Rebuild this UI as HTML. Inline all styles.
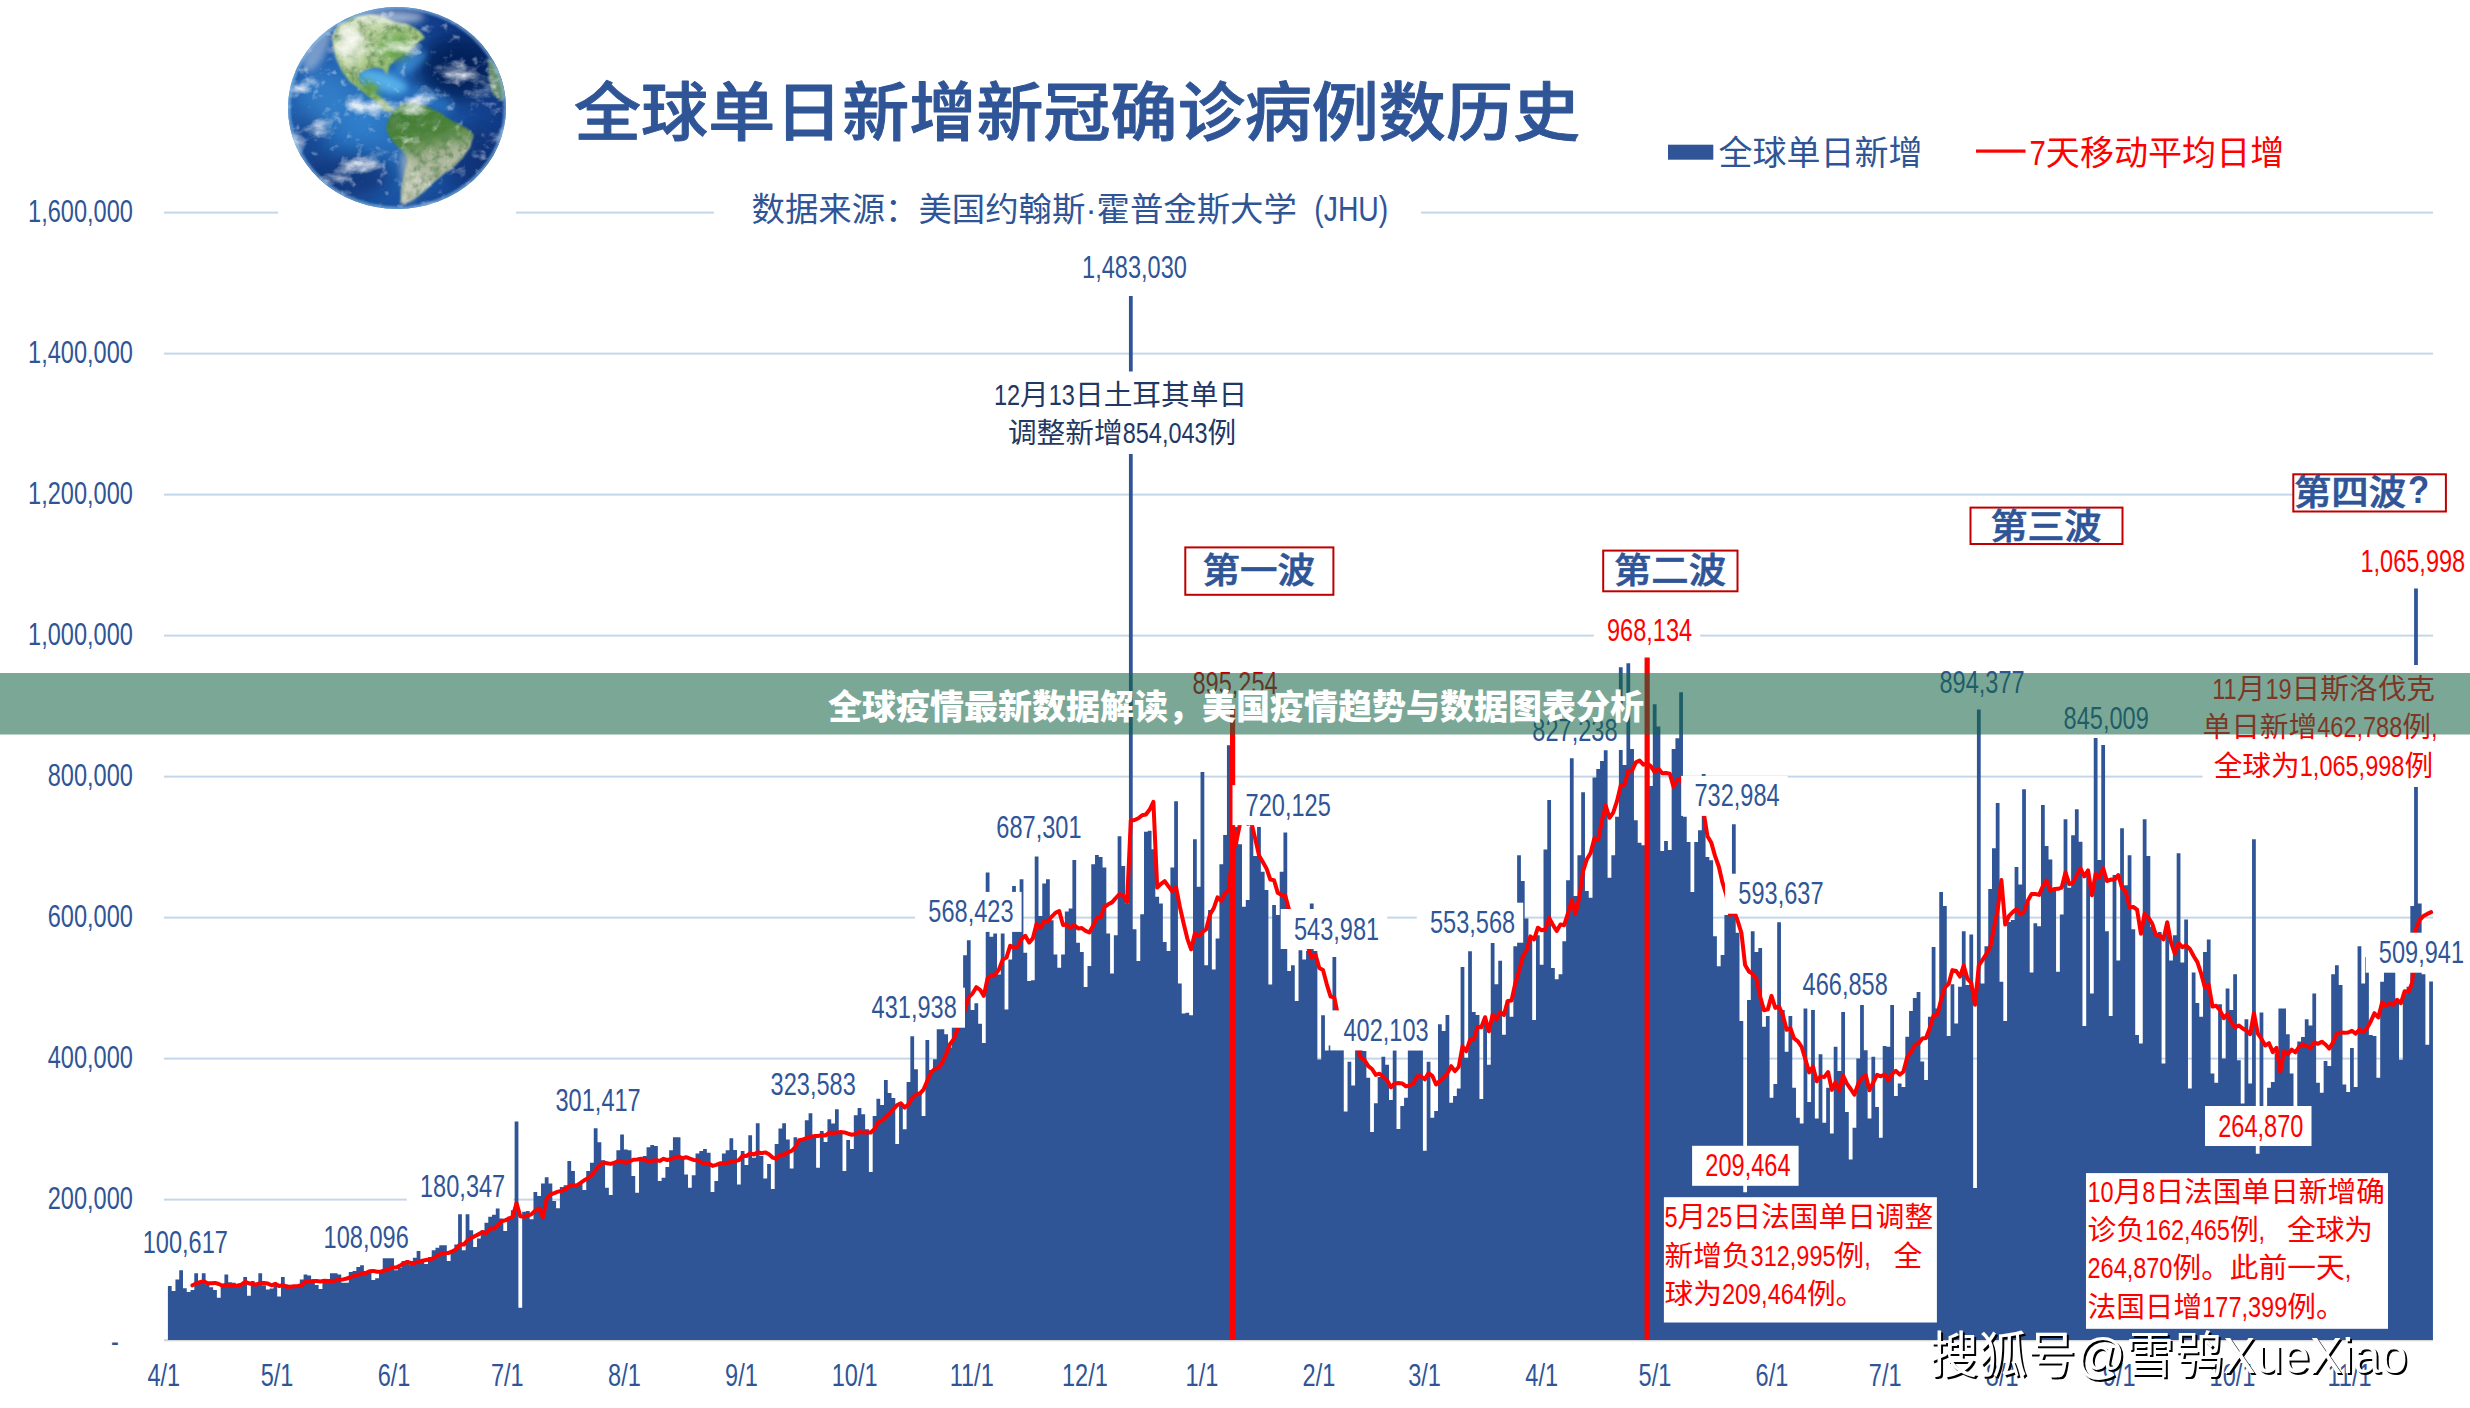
<!DOCTYPE html><html lang="zh"><head><meta charset="utf-8"><title>全球单日新增新冠确诊病例数历史</title>
<style>html,body{margin:0;padding:0;background:#fff}body{width:2470px;height:1408px;overflow:hidden}svg{display:block}text{font-family:"Liberation Sans","Noto Sans CJK SC",sans-serif}</style></head><body>
<svg width="2470" height="1408" viewBox="0 0 2470 1408">
<defs><clipPath id="gc"><ellipse cx="397" cy="108" rx="109" ry="101"/></clipPath><radialGradient id="og" cx="0.34" cy="0.56" r="0.74"><stop offset="0" stop-color="#3180cc"/><stop offset="0.45" stop-color="#1f5dad"/><stop offset="0.8" stop-color="#103884"/><stop offset="1" stop-color="#0a2762"/></radialGradient><linearGradient id="sa" x1="0" y1="0" x2="0.25" y2="1"><stop offset="0" stop-color="#3e7d32"/><stop offset="0.42" stop-color="#4d8339"/><stop offset="0.62" stop-color="#a9b497"/><stop offset="1" stop-color="#c2c7b6"/></linearGradient><linearGradient id="na" x1="0" y1="0" x2="0.6" y2="1"><stop offset="0" stop-color="#d9e3c4"/><stop offset="0.5" stop-color="#a9c886"/><stop offset="1" stop-color="#6fa04a"/></linearGradient><filter id="b1" x="-20%" y="-20%" width="140%" height="140%"><feGaussianBlur stdDeviation="1.2"/></filter><filter id="b6" x="-50%" y="-50%" width="200%" height="200%"><feGaussianBlur stdDeviation="9"/></filter><filter id="b3" x="-50%" y="-50%" width="200%" height="200%"><feGaussianBlur stdDeviation="3.5"/></filter><filter id="cl" x="0" y="0" width="100%" height="100%"><feTurbulence type="fractalNoise" baseFrequency="0.022 0.034" numOctaves="5" seed="11"/><feColorMatrix type="matrix" values="0 0 0 0 1  0 0 0 0 1  0 0 0 0 1  3.6 0 0 0 -2.0"/></filter><filter id="cl2" x="0" y="0" width="100%" height="100%"><feTurbulence type="fractalNoise" baseFrequency="0.09" numOctaves="3" seed="3"/><feColorMatrix type="matrix" values="0 0 0 0 1  0 0 0 0 1  0 0 0 0 1  0 4 0 0 -2.45"/></filter><filter id="lt" x="-5%" y="-5%" width="110%" height="110%"><feTurbulence type="fractalNoise" baseFrequency="0.12" numOctaves="3" seed="5" result="n"/><feColorMatrix in="n" type="matrix" values="0 0 0 0 0.1  0 0 0 0 0.25  0 0 0 0 0.08  0 0 2.2 0 -0.85" result="d"/><feGaussianBlur in="SourceGraphic" stdDeviation="0.9" result="sg"/><feComposite in="d" in2="sg" operator="in" result="dd"/><feMerge><feMergeNode in="sg"/><feMergeNode in="dd"/></feMerge></filter></defs>
<rect width="2470" height="1408" fill="#fff"/>
<rect x="164" y="211.6" width="2269" height="2" fill="#c3d6ea"/>
<rect x="164" y="352.6" width="2269" height="2" fill="#c3d6ea"/>
<rect x="164" y="493.6" width="2269" height="2" fill="#c3d6ea"/>
<rect x="164" y="634.6" width="2269" height="2" fill="#c3d6ea"/>
<rect x="164" y="775.6" width="2269" height="2" fill="#c3d6ea"/>
<rect x="164" y="916.6" width="2269" height="2" fill="#c3d6ea"/>
<rect x="164" y="1057.6" width="2269" height="2" fill="#c3d6ea"/>
<rect x="164" y="1198.6" width="2269" height="2" fill="#c3d6ea"/>
<rect x="164" y="1339" width="2269" height="2.4" fill="#d9d9d9"/>
<rect x="278" y="205" width="238" height="15" fill="#fff"/><rect x="714" y="180" width="707" height="50" fill="#fff"/>
<path d="M167.90 1340V1286.1 H171.67V1291.1 H175.44V1279.4 H179.21V1270.3 H182.98V1288.3 H186.74V1292.0 H190.51V1290.0 H194.28V1273.3 H198.05V1282.0 H201.82V1273.3 H205.59V1284.5 H209.36V1287.3 H213.13V1290.0 H216.89V1297.8 H220.66V1285.3 H224.43V1274.4 H228.20V1282.3 H231.97V1282.8 H235.74V1285.3 H239.51V1285.3 H243.28V1276.9 H247.04V1295.8 H250.81V1281.1 H254.58V1283.6 H258.35V1273.3 H262.12V1285.3 H265.89V1289.5 H269.66V1288.6 H273.43V1285.3 H277.20V1296.6 H280.96V1276.9 H284.73V1284.5 H288.50V1285.3 H292.27V1286.1 H296.04V1286.6 H299.81V1279.4 H303.58V1274.4 H307.35V1275.6 H311.11V1280.3 H314.88V1285.0 H318.65V1289.0 H322.42V1282.0 H326.19V1281.1 H329.96V1273.3 H333.73V1273.3 H337.50V1274.4 H341.26V1282.8 H345.03V1282.8 H348.80V1271.9 H352.57V1271.1 H356.34V1266.9 H360.11V1265.3 H363.88V1271.1 H367.65V1270.3 H371.42V1279.9 H375.18V1278.3 H378.95V1270.3 H382.72V1258.2 H386.49V1258.2 H390.26V1258.2 H394.03V1270.3 H397.80V1267.8 H401.57V1261.1 H405.33V1260.3 H409.10V1264.9 H412.87V1257.7 H416.64V1251.1 H420.41V1261.9 H424.18V1263.9 H427.95V1256.9 H431.72V1250.2 H435.48V1247.7 H439.25V1245.2 H443.02V1245.2 H446.79V1261.1 H450.56V1251.9 H454.33V1244.4 H458.10V1214.3 H461.87V1250.2 H465.64V1214.3 H469.40V1230.2 H473.17V1246.9 H476.94V1238.5 H480.71V1230.2 H484.48V1222.7 H488.25V1216.8 H492.02V1214.8 H495.79V1208.5 H499.55V1218.5 H503.32V1231.0 H507.09V1216.8 H510.86V1210.2 H514.63V1121.4 H518.40V1307.8 H522.17V1211.8 H525.94V1211.0 H529.70V1219.3 H533.47V1192.1 H537.24V1196.0 H541.01V1183.5 H544.78V1177.3 H548.55V1183.5 H552.32V1201.0 H556.09V1208.2 H559.86V1186.9 H563.62V1185.3 H567.39V1161.1 H571.16V1171.1 H574.93V1184.4 H578.70V1182.8 H582.47V1189.9 H586.24V1171.1 H590.01V1162.7 H593.77V1128.2 H597.54V1142.2 H601.31V1160.2 H605.08V1187.8 H608.85V1195.0 H612.62V1162.7 H616.39V1150.2 H620.16V1134.4 H623.92V1149.4 H627.69V1150.2 H631.46V1176.1 H635.23V1192.8 H639.00V1158.6 H642.77V1156.1 H646.54V1147.2 H650.31V1144.9 H654.08V1146.0 H657.84V1181.1 H661.61V1177.8 H665.38V1166.9 H669.15V1150.2 H672.92V1137.2 H676.69V1137.2 H680.46V1156.9 H684.23V1174.4 H687.99V1187.8 H691.76V1175.3 H695.53V1153.6 H699.30V1151.1 H703.07V1148.9 H706.84V1152.7 H710.61V1192.0 H714.38V1181.1 H718.14V1163.6 H721.91V1153.6 H725.68V1150.2 H729.45V1138.2 H733.22V1149.9 H736.99V1184.4 H740.76V1151.1 H744.53V1164.9 H748.30V1135.2 H752.06V1157.7 H755.83V1123.2 H759.60V1156.1 H763.37V1178.6 H767.14V1163.9 H770.91V1188.9 H774.68V1143.9 H778.45V1128.5 H782.21V1123.2 H785.98V1139.4 H789.75V1168.6 H793.52V1137.2 H797.29V1140.2 H801.06V1138.5 H804.83V1120.2 H808.60V1113.2 H812.36V1135.2 H816.13V1167.7 H819.90V1131.0 H823.67V1141.9 H827.44V1119.3 H831.21V1123.5 H834.98V1109.3 H838.75V1131.0 H842.52V1171.1 H846.28V1139.9 H850.05V1148.9 H853.82V1115.2 H857.59V1108.1 H861.36V1114.3 H865.13V1129.3 H868.90V1171.9 H872.67V1116.0 H876.43V1098.8 H880.20V1105.1 H883.97V1080.1 H887.74V1093.1 H891.51V1098.1 H895.28V1143.9 H899.05V1103.5 H902.82V1129.3 H906.58V1082.1 H910.35V1036.2 H914.12V1069.2 H917.89V1091.8 H921.66V1116.0 H925.43V1040.0 H929.20V1070.1 H932.97V1059.2 H936.74V1029.2 H940.50V1029.2 H944.27V1034.2 H948.04V1047.5 H951.81V1006.0 H955.58V1000.0 H959.35V996.0 H963.12V955.2 H966.89V940.2 H970.65V1010.0 H974.42V1003.3 H978.19V1023.7 H981.96V1042.9 H985.73V872.6 H989.50V936.8 H993.27V933.5 H997.04V974.4 H1000.80V933.5 H1004.57V1009.5 H1008.34V959.4 H1012.11V885.9 H1015.88V930.2 H1019.65V879.2 H1023.42V952.7 H1027.19V981.1 H1030.96V980.3 H1034.72V856.4 H1038.49V916.0 H1042.26V883.4 H1046.03V879.2 H1049.80V920.2 H1053.57V954.4 H1057.34V967.7 H1061.11V954.4 H1064.87V911.5 H1068.64V908.5 H1072.41V860.1 H1076.18V942.7 H1079.95V951.9 H1083.72V986.9 H1087.49V966.1 H1091.26V864.2 H1095.02V855.0 H1098.79V857.0 H1102.56V867.6 H1106.33V933.5 H1110.10V973.6 H1113.87V935.2 H1117.64V836.3 H1121.41V865.9 H1125.18V903.5 H1128.94V296.0 H1132.71V929.3 H1136.48V961.1 H1140.25V914.3 H1144.02V831.7 H1147.79V830.8 H1151.56V849.2 H1155.33V896.8 H1159.09V903.5 H1162.86V941.9 H1166.63V951.0 H1170.40V867.6 H1174.17V801.2 H1177.94V983.6 H1181.71V1013.6 H1185.48V1012.8 H1189.24V1015.3 H1193.01V839.2 H1196.78V886.8 H1200.55V771.9 H1204.32V965.2 H1208.09V910.1 H1211.86V969.4 H1215.63V938.5 H1219.40V864.2 H1223.16V835.0 H1226.93V745.2 H1230.70V1340.0 H1234.47V827.0 H1238.24V844.2 H1242.01V906.8 H1245.78V900.1 H1249.55V827.0 H1253.31V855.9 H1257.08V827.0 H1260.85V871.7 H1264.62V890.1 H1268.39V984.4 H1272.16V905.1 H1275.93V915.1 H1279.70V871.7 H1283.46V832.5 H1287.23V971.1 H1291.00V965.2 H1294.77V1001.1 H1298.54V950.2 H1302.31V959.4 H1306.08V951.0 H1309.85V903.5 H1313.62V951.0 H1317.38V1059.5 H1321.15V1015.3 H1324.92V1050.4 H1328.69V1045.4 H1332.46V956.9 H1336.23V1035.0 H1340.00V1035.0 H1343.77V1111.6 H1347.53V1061.8 H1351.30V1085.5 H1355.07V1035.0 H1358.84V1040.0 H1362.61V1051.0 H1366.38V1077.7 H1370.15V1132.0 H1373.92V1103.2 H1377.68V1076.9 H1381.45V1056.8 H1385.22V1064.8 H1388.99V1099.9 H1392.76V1050.2 H1396.53V1128.9 H1400.30V1106.1 H1404.07V1097.7 H1407.84V1050.2 H1411.60V1050.2 H1415.37V1050.2 H1419.14V1050.2 H1422.91V1150.7 H1426.68V1061.8 H1430.45V1117.8 H1434.22V1111.1 H1437.99V1024.3 H1441.75V1031.0 H1445.52V1015.1 H1449.29V1102.7 H1453.06V1096.1 H1456.83V1088.5 H1460.60V967.0 H1464.37V1057.7 H1468.14V951.2 H1471.90V1012.1 H1475.67V1015.1 H1479.44V1098.9 H1483.21V1018.4 H1486.98V1064.8 H1490.75V942.9 H1494.52V984.2 H1498.29V960.8 H1502.06V1034.8 H1505.82V1000.1 H1509.59V1016.8 H1513.36V946.2 H1517.13V855.2 H1520.90V881.1 H1524.67V918.6 H1528.44V937.0 H1532.21V1020.1 H1535.97V935.3 H1539.74V964.7 H1543.51V849.4 H1547.28V800.1 H1551.05V968.0 H1554.82V979.2 H1558.59V974.2 H1562.36V941.2 H1566.12V880.3 H1569.89V758.2 H1573.66V896.1 H1577.43V855.2 H1581.20V792.3 H1584.97V891.1 H1588.74V897.8 H1592.51V777.5 H1596.28V769.0 H1600.04V761.0 H1603.81V750.2 H1607.58V877.7 H1611.35V855.2 H1615.12V816.8 H1618.89V667.3 H1622.66V765.0 H1626.43V663.3 H1630.19V749.1 H1633.96V820.2 H1637.73V842.7 H1641.50V845.2 H1645.27V1340.0 H1649.04V786.0 H1652.81V704.2 H1656.58V726.4 H1660.34V851.0 H1664.11V841.0 H1667.88V849.9 H1671.65V749.1 H1675.42V738.3 H1679.19V692.3 H1682.96V816.8 H1686.73V841.9 H1690.50V891.9 H1694.26V841.9 H1698.03V830.2 H1701.80V774.1 H1705.57V856.9 H1709.34V860.2 H1713.11V936.2 H1716.88V966.3 H1720.65V955.0 H1724.41V915.0 H1728.18V915.0 H1731.95V824.3 H1735.72V932.8 H1739.49V1020.9 H1743.26V1192.3 H1747.03V1000.1 H1750.80V931.2 H1754.56V952.0 H1758.33V947.9 H1762.10V1026.8 H1765.87V1015.9 H1769.64V1097.7 H1773.41V1083.9 H1777.18V922.3 H1780.95V1010.1 H1784.72V1051.8 H1788.48V1015.9 H1792.25V1087.7 H1796.02V1117.8 H1799.79V1123.6 H1803.56V1008.4 H1807.33V1101.9 H1811.10V1010.1 H1814.87V1118.6 H1818.63V1054.3 H1822.40V1122.8 H1826.17V1087.7 H1829.94V1133.6 H1833.71V1046.8 H1837.48V1071.0 H1841.25V1012.1 H1845.02V1111.9 H1848.78V1159.5 H1852.55V1127.8 H1856.32V1058.5 H1860.09V1005.1 H1863.86V1050.2 H1867.63V1118.6 H1871.40V1056.8 H1875.17V1106.9 H1878.94V1137.8 H1882.70V1046.0 H1886.47V1046.8 H1890.24V1005.1 H1894.01V1096.1 H1897.78V1083.5 H1901.55V1086.9 H1905.32V1036.8 H1909.09V1010.9 H1912.85V998.1 H1916.62V992.1 H1920.39V1061.5 H1924.16V1079.9 H1927.93V1016.8 H1931.70V947.0 H1935.47V1008.4 H1939.24V891.9 H1943.00V906.1 H1946.77V1036.0 H1950.54V984.2 H1954.31V1023.4 H1958.08V986.7 H1961.85V931.2 H1965.62V985.0 H1969.39V934.5 H1973.16V1188.0 H1976.92V709.5 H1980.69V983.4 H1984.46V946.2 H1988.23V888.9 H1992.00V848.2 H1995.77V803.1 H1999.54V981.7 H2003.31V1020.9 H2007.07V922.0 H2010.84V920.0 H2014.61V866.9 H2018.38V884.4 H2022.15V789.3 H2025.92V901.9 H2029.69V972.5 H2033.46V923.3 H2037.22V926.2 H2040.99V805.1 H2044.76V846.0 H2048.53V859.4 H2052.30V890.3 H2056.07V971.7 H2059.84V914.5 H2063.61V819.3 H2067.38V887.8 H2071.14V835.2 H2074.91V809.3 H2078.68V841.8 H2082.45V1025.9 H2086.22V873.6 H2089.99V993.4 H2093.76V738.0 H2097.53V859.9 H2101.29V745.0 H2105.06V931.2 H2108.83V1015.9 H2112.60V874.9 H2116.37V960.4 H2120.14V828.2 H2123.91V885.3 H2127.68V855.2 H2131.44V929.2 H2135.21V1035.1 H2138.98V1043.5 H2142.75V819.3 H2146.52V856.0 H2150.29V927.0 H2154.06V933.7 H2157.83V932.0 H2161.60V1063.5 H2165.36V923.6 H2169.13V960.4 H2172.90V935.3 H2176.67V853.2 H2180.44V962.5 H2184.21V919.5 H2187.98V1088.5 H2191.75V972.5 H2195.51V1003.1 H2199.28V1016.8 H2203.05V952.0 H2206.82V939.5 H2210.59V1073.5 H2214.36V1082.7 H2218.13V1004.2 H2221.90V1058.5 H2225.66V988.4 H2229.43V1010.1 H2233.20V974.2 H2236.97V1060.2 H2240.74V1103.6 H2244.51V1019.3 H2248.28V1083.5 H2252.05V839.3 H2255.82V1153.7 H2259.58V1012.6 H2263.35V1106.1 H2267.12V1087.7 H2270.89V1081.9 H2274.66V1053.5 H2278.43V1008.4 H2282.20V1008.4 H2285.97V1034.3 H2289.73V1073.5 H2293.50V1106.9 H2297.27V1041.5 H2301.04V1037.1 H2304.81V1019.3 H2308.58V1025.4 H2312.35V993.4 H2316.12V1082.7 H2319.88V1092.7 H2323.65V1061.0 H2327.42V1066.0 H2331.19V974.2 H2334.96V965.3 H2338.73V985.0 H2342.50V1084.4 H2346.27V1091.9 H2350.04V1048.1 H2353.80V1086.9 H2357.57V946.2 H2361.34V983.4 H2365.11V957.0 H2368.88V1035.1 H2372.65V1036.0 H2376.42V1077.7 H2380.19V981.7 H2383.95V970.0 H2387.72V966.7 H2391.49V966.7 H2395.26V1000.1 H2399.03V1059.8 H2402.80V993.4 H2406.57V986.7 H2410.34V906.1 H2414.10V588.5 H2417.87V903.6 H2421.64V974.2 H2425.41V1044.8 H2429.18V981.4 H2432.95V1340 Z" fill="#2f5597"/>
<rect x="1229.99" y="709.0" width="5.2" height="631.0" fill="#ff0000"/>
<rect x="1644.55" y="657.5" width="5.2" height="682.5" fill="#ff0000"/>
<polyline points="192.4,1285.3 196.2,1283.5 199.9,1282.2 203.7,1281.3 207.5,1283.3 211.2,1283.2 215.0,1282.9 218.8,1284.0 222.5,1285.7 226.3,1284.6 230.1,1285.9 233.9,1285.7 237.6,1285.4 241.4,1284.7 245.2,1281.8 248.9,1283.3 252.7,1284.2 256.5,1284.4 260.2,1283.1 264.0,1283.1 267.8,1283.6 271.5,1285.3 275.3,1283.8 279.1,1286.0 282.8,1285.1 286.6,1286.7 290.4,1286.7 294.2,1286.2 297.9,1285.9 301.7,1285.1 305.5,1281.9 309.2,1281.7 313.0,1281.1 316.8,1281.1 320.5,1281.5 324.3,1280.8 328.1,1281.0 331.8,1280.9 335.6,1280.5 339.4,1279.7 343.1,1279.4 346.9,1278.5 350.7,1277.1 354.5,1275.7 358.2,1274.8 362.0,1273.6 365.8,1273.1 369.5,1271.3 373.3,1270.9 377.1,1271.8 380.8,1271.7 384.6,1270.5 388.4,1269.5 392.1,1267.6 395.9,1267.6 399.7,1265.9 403.5,1263.4 407.2,1262.0 411.0,1263.0 414.8,1262.9 418.5,1261.9 422.3,1260.7 426.1,1260.1 429.8,1259.5 433.6,1258.1 437.4,1255.6 441.1,1253.9 444.9,1253.0 448.7,1252.9 452.4,1251.2 456.2,1249.4 460.0,1244.3 463.8,1244.6 467.5,1240.2 471.3,1238.1 475.1,1236.0 478.8,1234.1 482.6,1232.1 486.4,1233.3 490.1,1228.5 493.9,1228.6 497.7,1225.5 501.4,1221.4 505.2,1220.4 509.0,1218.5 512.7,1216.7 516.5,1203.0 520.3,1216.3 524.1,1216.8 527.8,1215.7 531.6,1214.1 535.4,1210.5 539.1,1208.5 542.9,1217.4 546.7,1198.7 550.4,1194.7 554.2,1193.2 558.0,1191.6 561.7,1190.9 565.5,1189.4 569.3,1186.2 573.0,1185.3 576.8,1185.4 580.6,1182.8 584.4,1180.2 588.1,1178.0 591.9,1174.7 595.7,1170.0 599.4,1165.9 603.2,1162.5 607.0,1163.2 610.7,1163.9 614.5,1162.7 618.3,1160.9 622.0,1161.8 625.8,1162.8 629.6,1161.4 633.3,1159.7 637.1,1159.4 640.9,1158.8 644.7,1159.6 648.4,1161.5 652.2,1160.8 656.0,1160.2 659.7,1160.9 663.5,1158.8 667.3,1160.0 671.0,1159.2 674.8,1157.7 678.6,1156.6 682.3,1158.2 686.1,1157.2 689.9,1158.7 693.6,1159.9 697.4,1160.3 701.2,1162.3 705.0,1164.0 708.7,1163.4 712.5,1165.9 716.3,1164.9 720.0,1163.3 723.8,1163.3 727.6,1163.1 731.3,1161.6 735.1,1161.2 738.9,1160.1 742.6,1155.8 746.4,1156.0 750.2,1153.4 753.9,1154.5 757.7,1152.3 761.5,1153.2 765.3,1152.4 769.0,1154.2 772.8,1157.7 776.6,1158.9 780.3,1154.7 784.1,1154.7 787.9,1152.3 791.6,1150.9 795.4,1147.1 799.2,1140.1 802.9,1139.4 806.7,1138.2 810.5,1136.7 814.2,1136.1 818.0,1136.0 821.8,1135.1 825.6,1135.4 829.3,1132.6 833.1,1133.1 836.9,1132.6 840.6,1132.0 844.4,1132.4 848.2,1133.7 851.9,1134.7 855.7,1134.1 859.5,1131.9 863.2,1132.6 867.0,1132.4 870.8,1132.5 874.6,1129.1 878.3,1122.0 882.1,1120.5 885.9,1116.5 889.6,1113.5 893.4,1109.0 897.2,1105.0 900.9,1103.2 904.7,1107.6 908.5,1104.3 912.2,1098.0 916.0,1094.6 919.8,1093.7 923.5,1089.7 927.3,1080.7 931.1,1072.2 934.9,1068.9 938.6,1067.9 942.4,1062.2 946.2,1054.0 949.9,1044.2 953.7,1039.3 957.5,1029.3 961.2,1020.3 965.0,1009.7 968.8,997.0 972.5,993.6 976.3,987.2 980.1,989.8 983.8,995.9 987.6,978.2 991.4,975.6 995.2,974.7 998.9,969.6 1002.7,959.6 1006.5,957.6 1010.2,945.7 1014.0,947.6 1017.8,946.6 1021.5,938.9 1025.3,935.8 1029.1,942.6 1032.8,938.4 1036.6,923.7 1040.4,928.0 1044.1,921.3 1047.9,921.3 1051.7,916.6 1055.5,912.8 1059.2,911.0 1063.0,925.0 1066.8,924.4 1070.5,928.0 1074.3,925.2 1078.1,928.4 1081.8,928.1 1085.6,930.8 1089.4,932.5 1093.1,925.8 1096.9,918.1 1100.7,917.7 1104.4,907.0 1108.2,904.3 1112.0,902.4 1115.8,898.0 1119.5,894.0 1123.3,895.6 1127.1,902.2 1130.8,820.6 1134.6,820.0 1138.4,818.2 1142.1,815.2 1145.9,814.5 1149.7,809.5 1153.4,801.8 1157.2,887.6 1161.0,883.9 1164.7,881.2 1168.5,886.4 1172.3,891.5 1176.1,887.3 1179.8,906.5 1183.6,923.2 1187.4,938.8 1191.1,949.3 1194.9,933.3 1198.7,936.1 1202.4,931.9 1206.2,929.3 1210.0,914.5 1213.7,908.3 1217.5,897.3 1221.3,900.9 1225.0,893.5 1228.8,889.7 1232.6,853.1 1236.4,841.2 1240.1,823.3 1243.9,818.8 1247.7,823.9 1251.4,822.8 1255.2,838.6 1259.0,855.4 1262.7,861.8 1266.5,868.4 1270.3,879.5 1274.0,880.2 1277.8,892.8 1281.6,895.0 1285.3,895.8 1289.1,910.0 1292.9,920.7 1296.7,923.1 1300.4,929.6 1304.2,935.9 1308.0,947.2 1311.7,957.4 1315.5,954.5 1319.3,968.0 1323.0,970.0 1326.8,984.3 1330.6,996.6 1334.3,997.4 1338.1,1016.2 1341.9,1028.2 1345.7,1035.6 1349.4,1042.3 1353.2,1047.3 1357.0,1045.8 1360.7,1057.7 1364.5,1060.0 1368.3,1066.1 1372.0,1069.0 1375.8,1074.9 1379.6,1073.7 1383.3,1076.8 1387.1,1080.3 1390.9,1087.3 1394.6,1083.4 1398.4,1083.0 1402.2,1083.4 1406.0,1086.4 1409.7,1085.4 1413.5,1083.3 1417.3,1076.2 1421.0,1076.2 1424.8,1079.3 1428.6,1073.0 1432.3,1075.8 1436.1,1084.5 1439.9,1080.8 1443.6,1078.1 1447.4,1073.1 1451.2,1066.2 1454.9,1071.1 1458.7,1067.0 1462.5,1046.4 1466.3,1051.2 1470.0,1039.8 1473.8,1039.3 1477.6,1026.8 1481.3,1027.2 1485.1,1017.2 1488.9,1031.2 1492.6,1014.8 1496.4,1019.5 1500.2,1012.2 1503.9,1015.0 1507.7,1000.9 1511.5,1000.6 1515.2,983.7 1519.0,971.2 1522.8,956.4 1526.6,950.4 1530.3,936.4 1534.1,939.3 1537.9,927.7 1541.6,930.3 1545.4,929.5 1549.2,917.9 1552.9,924.9 1556.7,931.0 1560.5,924.4 1564.2,925.2 1568.0,913.2 1571.8,900.2 1575.5,913.9 1579.3,897.8 1583.1,871.1 1586.9,859.2 1590.6,853.0 1594.4,838.3 1598.2,839.9 1601.9,820.6 1605.7,805.6 1609.5,817.8 1613.2,812.6 1617.0,801.1 1620.8,785.3 1624.5,784.8 1628.3,770.8 1632.1,770.6 1635.8,762.4 1639.6,760.6 1643.4,764.7 1647.2,763.3 1650.9,766.3 1654.7,772.1 1658.5,768.9 1662.2,773.3 1666.0,773.0 1669.8,773.7 1673.5,786.8 1677.3,780.0 1681.1,778.3 1684.8,791.2 1688.6,789.9 1692.4,797.2 1696.1,796.0 1699.9,807.6 1703.7,812.7 1707.5,836.2 1711.2,842.4 1715.0,855.9 1718.8,866.5 1722.5,882.7 1726.3,894.8 1730.1,914.9 1733.8,910.3 1737.6,920.7 1741.4,932.8 1745.1,965.1 1748.9,971.5 1752.7,973.8 1756.4,979.1 1760.2,996.7 1764.0,1010.2 1767.8,1009.4 1771.5,995.9 1775.3,1007.9 1779.1,1006.6 1782.8,1014.9 1786.6,1029.8 1790.4,1028.2 1794.1,1038.5 1797.9,1041.4 1801.7,1047.0 1805.4,1059.3 1809.2,1072.4 1813.0,1066.5 1816.8,1081.2 1820.5,1076.4 1824.3,1077.1 1828.1,1072.0 1831.8,1089.9 1835.6,1082.0 1839.4,1090.7 1843.1,1075.5 1846.9,1083.7 1850.7,1089.0 1854.4,1094.7 1858.2,1083.9 1862.0,1078.0 1865.7,1075.0 1869.5,1090.2 1873.3,1082.3 1877.1,1074.8 1880.8,1076.3 1884.6,1074.5 1888.4,1080.4 1892.1,1074.0 1895.9,1070.8 1899.7,1074.6 1903.4,1071.7 1907.2,1057.3 1911.0,1052.3 1914.7,1045.3 1918.5,1043.5 1922.3,1038.5 1926.0,1038.0 1929.8,1028.0 1933.6,1015.2 1937.4,1014.8 1941.1,999.6 1944.9,987.4 1948.7,983.7 1952.4,970.1 1956.2,971.0 1960.0,976.7 1963.7,965.6 1967.5,978.9 1971.3,983.0 1975.0,1004.7 1978.8,965.5 1982.6,959.8 1986.3,954.0 1990.1,947.9 1993.9,928.4 1997.7,909.6 2001.4,880.1 2005.2,924.6 2009.0,915.9 2012.7,912.1 2016.5,909.0 2020.3,914.1 2024.0,912.2 2027.8,900.8 2031.6,893.9 2035.3,894.0 2039.1,894.9 2042.9,886.1 2046.6,880.6 2050.4,890.6 2054.2,889.0 2058.0,888.8 2061.7,887.6 2065.5,872.3 2069.3,884.1 2073.0,882.6 2076.8,875.4 2080.6,868.5 2084.3,876.3 2088.1,870.4 2091.9,895.3 2095.6,873.9 2099.4,877.4 2103.2,868.2 2106.9,881.0 2110.7,879.6 2114.5,879.8 2118.3,875.0 2122.0,887.9 2125.8,891.5 2129.6,907.3 2133.3,907.0 2137.1,909.7 2140.9,933.8 2144.6,913.7 2148.4,917.6 2152.2,923.6 2155.9,934.8 2159.7,935.2 2163.5,939.3 2167.2,922.2 2171.0,942.3 2174.8,953.6 2178.6,943.1 2182.3,947.2 2186.1,945.4 2189.9,949.0 2193.6,956.0 2197.4,962.1 2201.2,973.7 2204.9,987.8 2208.7,984.6 2212.5,1006.6 2216.2,1005.7 2220.0,1010.3 2223.8,1018.2 2227.5,1014.1 2231.3,1022.4 2235.1,1027.4 2238.9,1025.5 2242.6,1028.4 2246.4,1030.6 2250.2,1034.2 2253.9,1012.9 2257.7,1033.4 2261.5,1038.9 2265.2,1045.4 2269.0,1043.2 2272.8,1052.1 2276.5,1047.8 2280.3,1072.0 2284.1,1051.2 2287.8,1054.3 2291.6,1049.7 2295.4,1052.4 2299.2,1046.6 2302.9,1044.3 2306.7,1045.9 2310.5,1048.3 2314.2,1042.4 2318.0,1043.8 2321.8,1041.7 2325.5,1044.5 2329.3,1048.6 2333.1,1042.2 2336.8,1033.6 2340.6,1032.4 2344.4,1032.7 2348.2,1032.5 2351.9,1030.7 2355.7,1033.7 2359.5,1029.7 2363.2,1032.3 2367.0,1028.3 2370.8,1021.2 2374.5,1013.2 2378.3,1017.5 2382.1,1002.4 2385.8,1005.8 2389.6,1003.5 2393.4,1004.8 2397.1,999.8 2400.9,1003.2 2404.7,991.2 2408.5,991.9 2412.2,982.8 2416.0,928.8 2419.8,919.7 2423.5,916.1 2427.3,913.9 2431.1,912.2" fill="none" stroke="#ff0000" stroke-width="4" stroke-linejoin="round" stroke-linecap="round"/>
<text transform="translate(132.9,222.0) scale(0.763,1)" text-anchor="end" font-size="30.9" fill="#2f5597">1,600,000</text>
<text transform="translate(132.9,363.0) scale(0.763,1)" text-anchor="end" font-size="30.9" fill="#2f5597">1,400,000</text>
<text transform="translate(132.9,504.0) scale(0.763,1)" text-anchor="end" font-size="30.9" fill="#2f5597">1,200,000</text>
<text transform="translate(132.9,645.0) scale(0.763,1)" text-anchor="end" font-size="30.9" fill="#2f5597">1,000,000</text>
<text transform="translate(132.9,786.0) scale(0.763,1)" text-anchor="end" font-size="30.9" fill="#2f5597">800,000</text>
<text transform="translate(132.9,927.0) scale(0.763,1)" text-anchor="end" font-size="30.9" fill="#2f5597">600,000</text>
<text transform="translate(132.9,1068.0) scale(0.763,1)" text-anchor="end" font-size="30.9" fill="#2f5597">400,000</text>
<text transform="translate(132.9,1209.0) scale(0.763,1)" text-anchor="end" font-size="30.9" fill="#2f5597">200,000</text>
<text transform="translate(115.0,1352.0) scale(0.763,1)" text-anchor="middle" font-size="30.9" fill="#2f5597">-</text>
<text transform="translate(163.8,1386.3) scale(0.763,1)" text-anchor="middle" font-size="30.9" fill="#2f5597">4/1</text>
<text transform="translate(277.1,1386.3) scale(0.763,1)" text-anchor="middle" font-size="30.9" fill="#2f5597">5/1</text>
<text transform="translate(394.1,1386.3) scale(0.763,1)" text-anchor="middle" font-size="30.9" fill="#2f5597">6/1</text>
<text transform="translate(507.3,1386.3) scale(0.763,1)" text-anchor="middle" font-size="30.9" fill="#2f5597">7/1</text>
<text transform="translate(624.4,1386.3) scale(0.763,1)" text-anchor="middle" font-size="30.9" fill="#2f5597">8/1</text>
<text transform="translate(741.4,1386.3) scale(0.763,1)" text-anchor="middle" font-size="30.9" fill="#2f5597">9/1</text>
<text transform="translate(854.6,1386.3) scale(0.763,1)" text-anchor="middle" font-size="30.9" fill="#2f5597">10/1</text>
<text transform="translate(971.7,1386.3) scale(0.763,1)" text-anchor="middle" font-size="30.9" fill="#2f5597">11/1</text>
<text transform="translate(1084.9,1386.3) scale(0.763,1)" text-anchor="middle" font-size="30.9" fill="#2f5597">12/1</text>
<text transform="translate(1201.9,1386.3) scale(0.763,1)" text-anchor="middle" font-size="30.9" fill="#2f5597">1/1</text>
<text transform="translate(1318.9,1386.3) scale(0.763,1)" text-anchor="middle" font-size="30.9" fill="#2f5597">2/1</text>
<text transform="translate(1424.6,1386.3) scale(0.763,1)" text-anchor="middle" font-size="30.9" fill="#2f5597">3/1</text>
<text transform="translate(1541.7,1386.3) scale(0.763,1)" text-anchor="middle" font-size="30.9" fill="#2f5597">4/1</text>
<text transform="translate(1654.9,1386.3) scale(0.763,1)" text-anchor="middle" font-size="30.9" fill="#2f5597">5/1</text>
<text transform="translate(1771.9,1386.3) scale(0.763,1)" text-anchor="middle" font-size="30.9" fill="#2f5597">6/1</text>
<text transform="translate(1885.2,1386.3) scale(0.763,1)" text-anchor="middle" font-size="30.9" fill="#2f5597">7/1</text>
<text transform="translate(2002.2,1386.3) scale(0.763,1)" text-anchor="middle" font-size="30.9" fill="#2f5597">8/1</text>
<text transform="translate(2119.2,1386.3) scale(0.763,1)" text-anchor="middle" font-size="30.9" fill="#2f5597">9/1</text>
<text transform="translate(2232.5,1386.3) scale(0.763,1)" text-anchor="middle" font-size="30.9" fill="#2f5597">10/1</text>
<text transform="translate(2349.5,1386.3) scale(0.763,1)" text-anchor="middle" font-size="30.9" fill="#2f5597">11/1</text>
<text transform="translate(185.3,1252.5) scale(0.763,1)" text-anchor="middle" font-size="30.9" fill="#2f5597">100,617</text>
<text transform="translate(366.2,1247.5) scale(0.763,1)" text-anchor="middle" font-size="30.9" fill="#2f5597">108,096</text>
<rect x="406.8" y="1166.2" width="106.5" height="40" fill="#fff"/>
<text transform="translate(462.6,1196.7) scale(0.763,1)" text-anchor="middle" font-size="30.9" fill="#2f5597">180,347</text>
<text transform="translate(598.1,1111.4) scale(0.763,1)" text-anchor="middle" font-size="30.9" fill="#2f5597">301,417</text>
<text transform="translate(813.2,1094.8) scale(0.763,1)" text-anchor="middle" font-size="30.9" fill="#2f5597">323,583</text>
<rect x="858.5" y="987.7" width="106.5" height="40" fill="#fff"/>
<text transform="translate(914.2,1018.2) scale(0.763,1)" text-anchor="middle" font-size="30.9" fill="#2f5597">431,938</text>
<rect x="915.1" y="891.9" width="106.5" height="40" fill="#fff"/>
<text transform="translate(970.9,922.4) scale(0.763,1)" text-anchor="middle" font-size="30.9" fill="#2f5597">568,423</text>
<text transform="translate(1038.9,838.3) scale(0.763,1)" text-anchor="middle" font-size="30.9" fill="#2f5597">687,301</text>
<rect x="1232.5" y="785.1" width="106.5" height="40" fill="#fff"/>
<text transform="translate(1288.2,815.6) scale(0.763,1)" text-anchor="middle" font-size="30.9" fill="#2f5597">720,125</text>
<rect x="1280.7" y="909.0" width="106.5" height="40" fill="#fff"/>
<text transform="translate(1336.5,939.5) scale(0.763,1)" text-anchor="middle" font-size="30.9" fill="#2f5597">543,981</text>
<rect x="1330.3" y="1010.4" width="106.5" height="40" fill="#fff"/>
<text transform="translate(1386.0,1040.9) scale(0.763,1)" text-anchor="middle" font-size="30.9" fill="#2f5597">402,103</text>
<rect x="1416.7" y="902.7" width="106.5" height="40" fill="#fff"/>
<text transform="translate(1472.5,933.2) scale(0.763,1)" text-anchor="middle" font-size="30.9" fill="#2f5597">553,568</text>
<rect x="1519.1" y="710.0" width="106.5" height="40" fill="#fff"/>
<text transform="translate(1574.9,740.5) scale(0.763,1)" text-anchor="middle" font-size="30.9" fill="#2f5597">827,238</text>
<rect x="1681.2" y="775.9" width="106.5" height="40" fill="#fff"/>
<text transform="translate(1737.0,806.4) scale(0.763,1)" text-anchor="middle" font-size="30.9" fill="#2f5597">732,984</text>
<rect x="1725.1" y="873.7" width="106.5" height="40" fill="#fff"/>
<text transform="translate(1780.9,904.2) scale(0.763,1)" text-anchor="middle" font-size="30.9" fill="#2f5597">593,637</text>
<rect x="1789.5" y="964.3" width="106.5" height="40" fill="#fff"/>
<text transform="translate(1845.2,994.8) scale(0.763,1)" text-anchor="middle" font-size="30.9" fill="#2f5597">466,858</text>
<text transform="translate(1982.0,693.0) scale(0.763,1)" text-anchor="middle" font-size="30.9" fill="#2f5597">894,377</text>
<text transform="translate(2106.2,728.5) scale(0.763,1)" text-anchor="middle" font-size="30.9" fill="#2f5597">845,009</text>
<rect x="2365.7" y="932.7" width="106.5" height="40" fill="#fff"/>
<text transform="translate(2421.4,963.2) scale(0.763,1)" text-anchor="middle" font-size="30.9" fill="#2f5597">509,941</text>
<text transform="translate(1134.5,277.8) scale(0.763,1)" text-anchor="middle" font-size="30.9" fill="#2f5597">1,483,030</text>
<text transform="translate(1235.0,693.5) scale(0.763,1)" text-anchor="middle" font-size="30.9" fill="#c00000">895,254</text>
<rect x="1593.7" y="610.8" width="106.5" height="40" fill="#fff"/>
<text transform="translate(1649.5,641.3) scale(0.763,1)" text-anchor="middle" font-size="30.9" fill="#ff0000">968,134</text>
<text transform="translate(2412.8,571.7) scale(0.763,1)" text-anchor="middle" font-size="30.9" fill="#ff0000">1,065,998</text>
<rect x="1692.1" y="1145.8" width="106.5" height="40" fill="#fff"/>
<text transform="translate(1747.9,1176.3) scale(0.763,1)" text-anchor="middle" font-size="30.9" fill="#ff0000">209,464</text>
<rect x="2205.0" y="1106.0" width="106.5" height="40" fill="#fff"/>
<text transform="translate(2260.8,1136.5) scale(0.763,1)" text-anchor="middle" font-size="30.9" fill="#ff0000">264,870</text>
<rect x="990" y="371.5" width="262" height="82.5" fill="#fff"/>
<text transform="translate(994.0,404.5) scale(0.780,1)" font-size="30.135" fill="#1f3864">12</text>
<text x="1020.1" y="404.5" font-size="28.7" fill="#1f3864">月</text>
<text transform="translate(1048.8,404.5) scale(0.780,1)" font-size="30.135" fill="#1f3864">13</text>
<text x="1075.0" y="404.5" font-size="28.7" fill="#1f3864">日土耳其单日</text>
<text x="1007.9" y="443.2" font-size="28.7" fill="#1f3864">调整新增</text>
<text transform="translate(1122.7,443.2) scale(0.780,1)" font-size="30.135" fill="#1f3864">854,043</text>
<text x="1207.6" y="443.2" font-size="28.7" fill="#1f3864">例</text>
<rect x="2202.5" y="665" width="240" height="122" fill="#fff"/>
<text transform="translate(2212.3,698.5) scale(0.780,1)" font-size="30.135" fill="#ff0000">11</text>
<text x="2236.7" y="698.5" font-size="28.7" fill="#ff0000">月</text>
<text transform="translate(2265.4,698.5) scale(0.780,1)" font-size="30.135" fill="#ff0000">19</text>
<text x="2291.6" y="698.5" font-size="28.7" fill="#ff0000">日斯洛伐克</text>
<text x="2202.5" y="737.0" font-size="28.7" fill="#ff0000">单日新增</text>
<text transform="translate(2317.3,737.0) scale(0.780,1)" font-size="30.135" fill="#ff0000">462,788</text>
<text x="2402.3" y="737.0" font-size="28.7" fill="#ff0000">例</text>
<text transform="translate(2431.0,737.0) scale(0.780,1)" font-size="30.135" fill="#ff0000">,</text>
<text x="2213.7" y="775.5" font-size="28.7" fill="#ff0000">全球为</text>
<text transform="translate(2299.8,775.5) scale(0.780,1)" font-size="30.135" fill="#ff0000">1,065,998</text>
<text x="2404.4" y="775.5" font-size="28.7" fill="#ff0000">例</text>
<rect x="1663.9" y="1197.2" width="273" height="125.3" fill="#fff"/>
<text transform="translate(1664.5,1227.3) scale(0.780,1)" font-size="30.135" fill="#ff0000">5</text>
<text x="1677.6" y="1227.3" font-size="28.7" fill="#ff0000">月</text>
<text transform="translate(1706.3,1227.3) scale(0.780,1)" font-size="30.135" fill="#ff0000">25</text>
<text x="1732.4" y="1227.3" font-size="28.7" fill="#ff0000">日法国单日调整</text>
<text x="1664.5" y="1265.7" font-size="28.7" fill="#ff0000">新增负</text>
<text transform="translate(1750.6,1265.7) scale(0.780,1)" font-size="30.135" fill="#ff0000">312,995</text>
<text x="1835.6" y="1265.7" font-size="28.7" fill="#ff0000">例</text>
<text transform="translate(1864.3,1265.7) scale(0.780,1)" font-size="30.135" fill="#ff0000">,</text>
<text x="1893.5" y="1265.7" font-size="28.7" fill="#ff0000">全</text>
<text x="1664.5" y="1304.1" font-size="28.7" fill="#ff0000">球为</text>
<text transform="translate(1721.9,1304.1) scale(0.780,1)" font-size="30.135" fill="#ff0000">209,464</text>
<text x="1806.9" y="1304.1" font-size="28.7" fill="#ff0000">例。</text>
<rect x="2086" y="1173.1" width="302" height="155.7" fill="#fff"/>
<text transform="translate(2087.5,1201.5) scale(0.780,1)" font-size="30.135" fill="#ff0000">10</text>
<text x="2113.6" y="1201.5" font-size="28.7" fill="#ff0000">月</text>
<text transform="translate(2142.3,1201.5) scale(0.780,1)" font-size="30.135" fill="#ff0000">8</text>
<text x="2155.4" y="1201.5" font-size="28.7" fill="#ff0000">日法国单日新增确</text>
<text x="2087.5" y="1240.0" font-size="28.7" fill="#ff0000">诊负</text>
<text transform="translate(2144.9,1240.0) scale(0.780,1)" font-size="30.135" fill="#ff0000">162,465</text>
<text x="2229.9" y="1240.0" font-size="28.7" fill="#ff0000">例</text>
<text transform="translate(2258.6,1240.0) scale(0.780,1)" font-size="30.135" fill="#ff0000">,</text>
<text x="2287.0" y="1240.0" font-size="28.7" fill="#ff0000">全球为</text>
<text transform="translate(2087.5,1278.4) scale(0.780,1)" font-size="30.135" fill="#ff0000">264,870</text>
<text x="2172.5" y="1278.4" font-size="28.7" fill="#ff0000">例。此前一天</text>
<text transform="translate(2344.7,1278.4) scale(0.780,1)" font-size="30.135" fill="#ff0000">,</text>
<text x="2087.5" y="1316.8" font-size="28.7" fill="#ff0000">法国日增</text>
<text transform="translate(2202.3,1316.8) scale(0.780,1)" font-size="30.135" fill="#ff0000">177,399</text>
<text x="2287.3" y="1316.8" font-size="28.7" fill="#ff0000">例。</text>
<rect x="1185.3" y="547.4" width="148.1" height="47.4" fill="#fff" stroke="#c00000" stroke-width="2"/>
<text transform="translate(1202.6,583.2) scale(1,0.93)" font-size="37.5" font-weight="500" stroke="#2f5597" stroke-width="0.7" fill="#2f5597" textLength="112.4" lengthAdjust="spacingAndGlyphs">第一波</text>
<rect x="1603.2" y="550.6" width="134.3" height="40.7" fill="#fff" stroke="#c00000" stroke-width="2"/>
<text transform="translate(1614.0,583.2) scale(1,0.93)" font-size="37.5" font-weight="500" stroke="#2f5597" stroke-width="0.7" fill="#2f5597" textLength="112.0" lengthAdjust="spacingAndGlyphs">第二波</text>
<rect x="1970.5" y="507.6" width="152.0" height="36.4" fill="#fff" stroke="#c00000" stroke-width="2"/>
<text transform="translate(1990.5,539.2) scale(1,0.93)" font-size="37.5" font-weight="500" stroke="#2f5597" stroke-width="0.7" fill="#2f5597" textLength="111.0" lengthAdjust="spacingAndGlyphs">第三波</text>
<rect x="2293.3" y="474.3" width="152.6" height="37.2" fill="#fff" stroke="#c00000" stroke-width="2"/>
<text transform="translate(2294.0,505.2) scale(1,0.93)" font-size="37.5" font-weight="500" stroke="#2f5597" stroke-width="0.7" fill="#2f5597" textLength="112.0" lengthAdjust="spacingAndGlyphs">第四波</text>
<text transform="translate(2408.0,503.0) scale(0.85,0.93)" font-size="41" font-weight="700" fill="#2f5597">?</text>
<text transform="translate(574,135.3) scale(1,0.945)" font-size="67" font-weight="500" stroke="#2f5597" stroke-width="1" stroke-linejoin="round" fill="#2f5597" textLength="1006" lengthAdjust="spacing">全球单日新增新冠确诊病例数历史</text>
<text x="751.5" y="220.6" font-size="33.4" fill="#2f5597">数据来源：美国约翰斯·霍普金斯大学</text>
<text transform="translate(1314.3,220.6) scale(0.810,1)" text-anchor="start" font-size="35" fill="#2f5597">(JHU)</text>
<rect x="1668" y="144.7" width="45.3" height="15" fill="#2f5597"/>
<text x="1718.5" y="164.5" font-size="34" fill="#2f5597">全球单日新增</text>
<rect x="1976" y="149.5" width="49.5" height="3.2" fill="#ff0000"/>
<text transform="translate(2029.5,164.5) scale(0.820,1)" font-size="35.805" fill="#ff0000">7</text>
<text x="2045.8" y="164.5" font-size="34.1" fill="#ff0000">天移动平均日增</text>
<g clip-path="url(#gc)"><rect x="280" y="0" width="240" height="215" fill="url(#og)"/><ellipse cx="455.9" cy="68.8" rx="39.1" ry="32.8" fill="#061a52" opacity="0.85" filter="url(#b6)" transform="rotate(0 455.9 68.8)"/><ellipse cx="473.1" cy="156.2" rx="31.2" ry="31.2" fill="#0a2a6c" opacity="0.6" filter="url(#b6)" transform="rotate(0 473.1 156.2)"/><ellipse cx="345.0" cy="176.6" rx="46.9" ry="23.4" fill="#0a2a6c" opacity="0.7" filter="url(#b6)" transform="rotate(0 345.0 176.6)"/><ellipse cx="309.1" cy="140.6" rx="18.8" ry="31.2" fill="#0c2f74" opacity="0.5" filter="url(#b6)" transform="rotate(0 309.1 140.6)"/><ellipse cx="321.6" cy="96.9" rx="23.4" ry="31.2" fill="#4a9be0" opacity="0.35" filter="url(#b6)" transform="rotate(0 321.6 96.9)"/><ellipse cx="382.5" cy="81.2" rx="26.6" ry="9.4" fill="#5ab6ee" opacity="0.9" filter="url(#b3)" transform="rotate(18 382.5 81.2)"/><ellipse cx="410.6" cy="62.5" rx="18.8" ry="7.8" fill="#3f95dc" opacity="0.7" filter="url(#b3)" transform="rotate(-35 410.6 62.5)"/><ellipse cx="430.9" cy="100.0" rx="25.0" ry="9.4" fill="#2f7fcc" opacity="0.6" filter="url(#b3)" transform="rotate(20 430.9 100.0)"/><g filter="url(#lt)"><polygon points="343.4,21.9 354.4,16.4 370.0,14.4 382.5,16.4 395.0,21.9 407.5,24.2 420.0,31.2 425.0,37.8 415.3,44.5 407.5,50.8 397.3,57.8 389.5,65.6 386.9,75.0 382.8,68.8 373.9,66.9 364.5,70.0 358.8,73.4 359.4,81.2 363.8,86.7 371.6,84.4 378.1,87.8 372.3,91.9 379.4,95.6 386.4,103.1 393.4,110.2 388.8,112.5 381.7,107.8 375.5,101.6 368.4,96.1 360.6,89.4 349.7,81.6 341.9,70.6 336.9,59.4 333.1,46.9 332.5,35.9 337.2,26.6" fill="url(#na)"/><polygon points="388.8,118.8 395.0,109.4 402.8,103.9 415.3,102.8 426.2,106.2 438.8,112.5 451.2,120.3 466.9,128.4 473.4,134.7 470.3,146.9 462.5,157.8 453.1,167.2 442.2,175.0 432.8,183.1 423.4,192.2 414.1,198.8 406.2,203.4 400.5,203.4 401.2,190.6 404.4,175.0 407.5,160.9 405.9,154.7 396.9,145.6 389.1,136.2 386.4,128.1" fill="url(#sa)"/><polygon points="488.0,57.8 496.6,65.6 505.6,87.5 503.1,101.6 493.4,95.3 488.8,78.1" fill="#7fa27c" opacity="0.85"/></g><ellipse cx="395.0" cy="46.9" rx="17.2" ry="14.1" fill="#6aa84f" opacity="0.75" filter="url(#b3)" transform="rotate(0 395.0 46.9)"/><ellipse cx="370.0" cy="87.5" rx="10.9" ry="5.5" fill="#5c9e45" opacity="0.8" filter="url(#b3)" transform="rotate(35 370.0 87.5)"/><ellipse cx="351.2" cy="46.9" rx="14.1" ry="21.9" fill="#eef0e0" opacity="0.55" filter="url(#b3)" transform="rotate(0 351.2 46.9)"/><ellipse cx="388.8" cy="17.2" rx="35.9" ry="7.0" fill="#ffffff" opacity="0.55" filter="url(#b3)" transform="rotate(0 388.8 17.2)"/><ellipse cx="316.9" cy="46.9" rx="10.9" ry="26.6" fill="#ffffff" opacity="0.4" filter="url(#b3)" transform="rotate(25 316.9 46.9)"/><ellipse cx="407.5" cy="176.6" rx="5.5" ry="26.6" fill="#d8d8c8" opacity="0.6" filter="url(#b3)" transform="rotate(-8 407.5 176.6)"/><rect x="280" y="0" width="240" height="215" filter="url(#cl)" opacity="0.85"/><rect x="280" y="0" width="240" height="215" filter="url(#cl2)" opacity="0.4"/><ellipse cx="397" cy="108" rx="109" ry="101" fill="none" stroke="#8cc4f0" stroke-width="5" opacity="0.6" filter="url(#b1)"/></g>
<rect x="0" y="673" width="2470" height="61.5" fill="#136443" fill-opacity="0.56"/>
<text x="1236" y="718.6" font-size="34" font-weight="900" fill="#fff" text-anchor="middle">全球疫情最新数据解读，美国疫情趋势与数据图表分析</text>
<text x="1931.5" y="1374.6" font-size="50" font-weight="400" fill="#000" textLength="478" lengthAdjust="spacingAndGlyphs">搜狐号@雪鸮XueXiao</text>
<text x="1929.5" y="1372.6" font-size="50" font-weight="400" fill="#fff" textLength="478" lengthAdjust="spacingAndGlyphs">搜狐号@雪鸮XueXiao</text>
</svg></body></html>
